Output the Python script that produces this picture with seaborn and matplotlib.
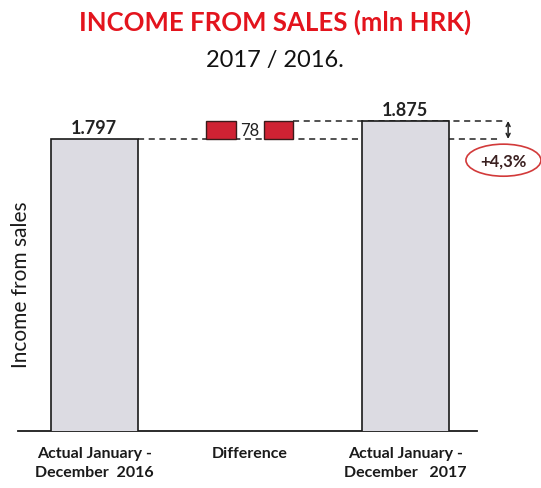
import pandas as pd
import matplotlib.pyplot as plt
import seaborn as sns

# data (mln HRK)
categories = ["Actual January -\nDecember  2016", "Difference", "Actual January -\nDecember   2017"]
actual_periods = [categories[0], categories[2]]
actual_values = [1797, 1875]
difference = 78
change_label = "+4,3%"
value_labels = ["1.797", "1.875"]


def main():
    sns.set_theme(style="white")
    plt.rcParams["font.family"] = ["Lato", "DejaVu Sans"]

    fig = plt.figure(figsize=(5.41, 4.89), dpi=100)
    ax = fig.add_axes([18 / 541, 57 / 489, 459 / 541, 332 / 489])

    df = pd.DataFrame({"period": actual_periods, "income": actual_values})
    sns.barplot(data=df, x="period", y="income", order=categories,
                color="#dcdbe2", saturation=1, edgecolor="#1a1a1a",
                linewidth=1.2, width=0.56, ax=ax, zorder=3)

    # floating difference bar, split in two around its label
    for off in (-0.185, 0.185):
        ax.bar(1 + off, difference, bottom=actual_values[0], width=0.19,
               color="#cf2233", edgecolor="#3a1a1a", linewidth=1, zorder=3)
    ax.text(1, actual_values[0] + difference / 2, str(difference),
            ha="center", va="center", fontsize=12, color="#222222", zorder=4)

    # dashed connector lines (behind the bars)
    ax.hlines(actual_values[0], 0.28, 2.6, colors="#222222",
              linestyles=(0, (4, 3)), linewidth=1.1, zorder=1, clip_on=False)
    ax.hlines(actual_values[1], 1.28, 2.65, colors="#222222",
              linestyles=(0, (4, 3)), linewidth=1.1, zorder=1, clip_on=False)
    ax.annotate("", xy=(2.66, actual_values[1]), xytext=(2.66, actual_values[0]),
                arrowprops=dict(arrowstyle="<->", color="#222222", lw=1.1,
                                mutation_scale=7, shrinkA=0, shrinkB=0),
                annotation_clip=False)
    ax.text(2.63, 1705, change_label, ha="center", va="center", fontsize=12,
            fontweight="bold", color="#3a2020", clip_on=False,
            bbox=dict(boxstyle="ellipse,pad=0.2", fc="white", ec="#d23a3a", lw=1.2))

    # value labels above the actual bars
    for x, v, lab in zip([0, 2], actual_values, value_labels):
        ax.text(x, v + 12, lab, ha="center", va="bottom", fontsize=13,
                fontweight="bold", color="#222222")

    ax.set_ylim(532, 1970)
    ax.set_xlim(-0.49, 2.46)
    ax.set_yticks([])
    ax.set_xlabel("")
    ax.set_ylabel("")
    ax.set_xticks(range(len(categories)))
    ax.set_xticklabels(categories, fontsize=11.5, fontweight="bold",
                       color="#1a1a1a", linespacing=1.4)
    ax.tick_params(axis="x", length=0, pad=11)
    for side in ["left", "right", "top"]:
        ax.spines[side].set_visible(False)
    ax.spines["bottom"].set_color("#1a1a1a")
    ax.spines["bottom"].set_linewidth(1.3)

    fig.text(21 / 541, 1 - 285 / 489, "Income from sales", rotation=90,
             ha="center", va="center", fontsize=15, color="#1a1a1a")
    fig.text(275 / 541, 1 - 22 / 489, "INCOME FROM SALES (mln HRK)",
             ha="center", va="center", fontsize=18.5, fontweight="bold",
             color="#e3141d")
    fig.text(275 / 541, 1 - 60 / 489, "2017 / 2016.", ha="center",
             va="center", fontsize=17, color="#111111")

    fig.savefig("out.png", dpi=100)


if __name__ == "__main__":
    main()
